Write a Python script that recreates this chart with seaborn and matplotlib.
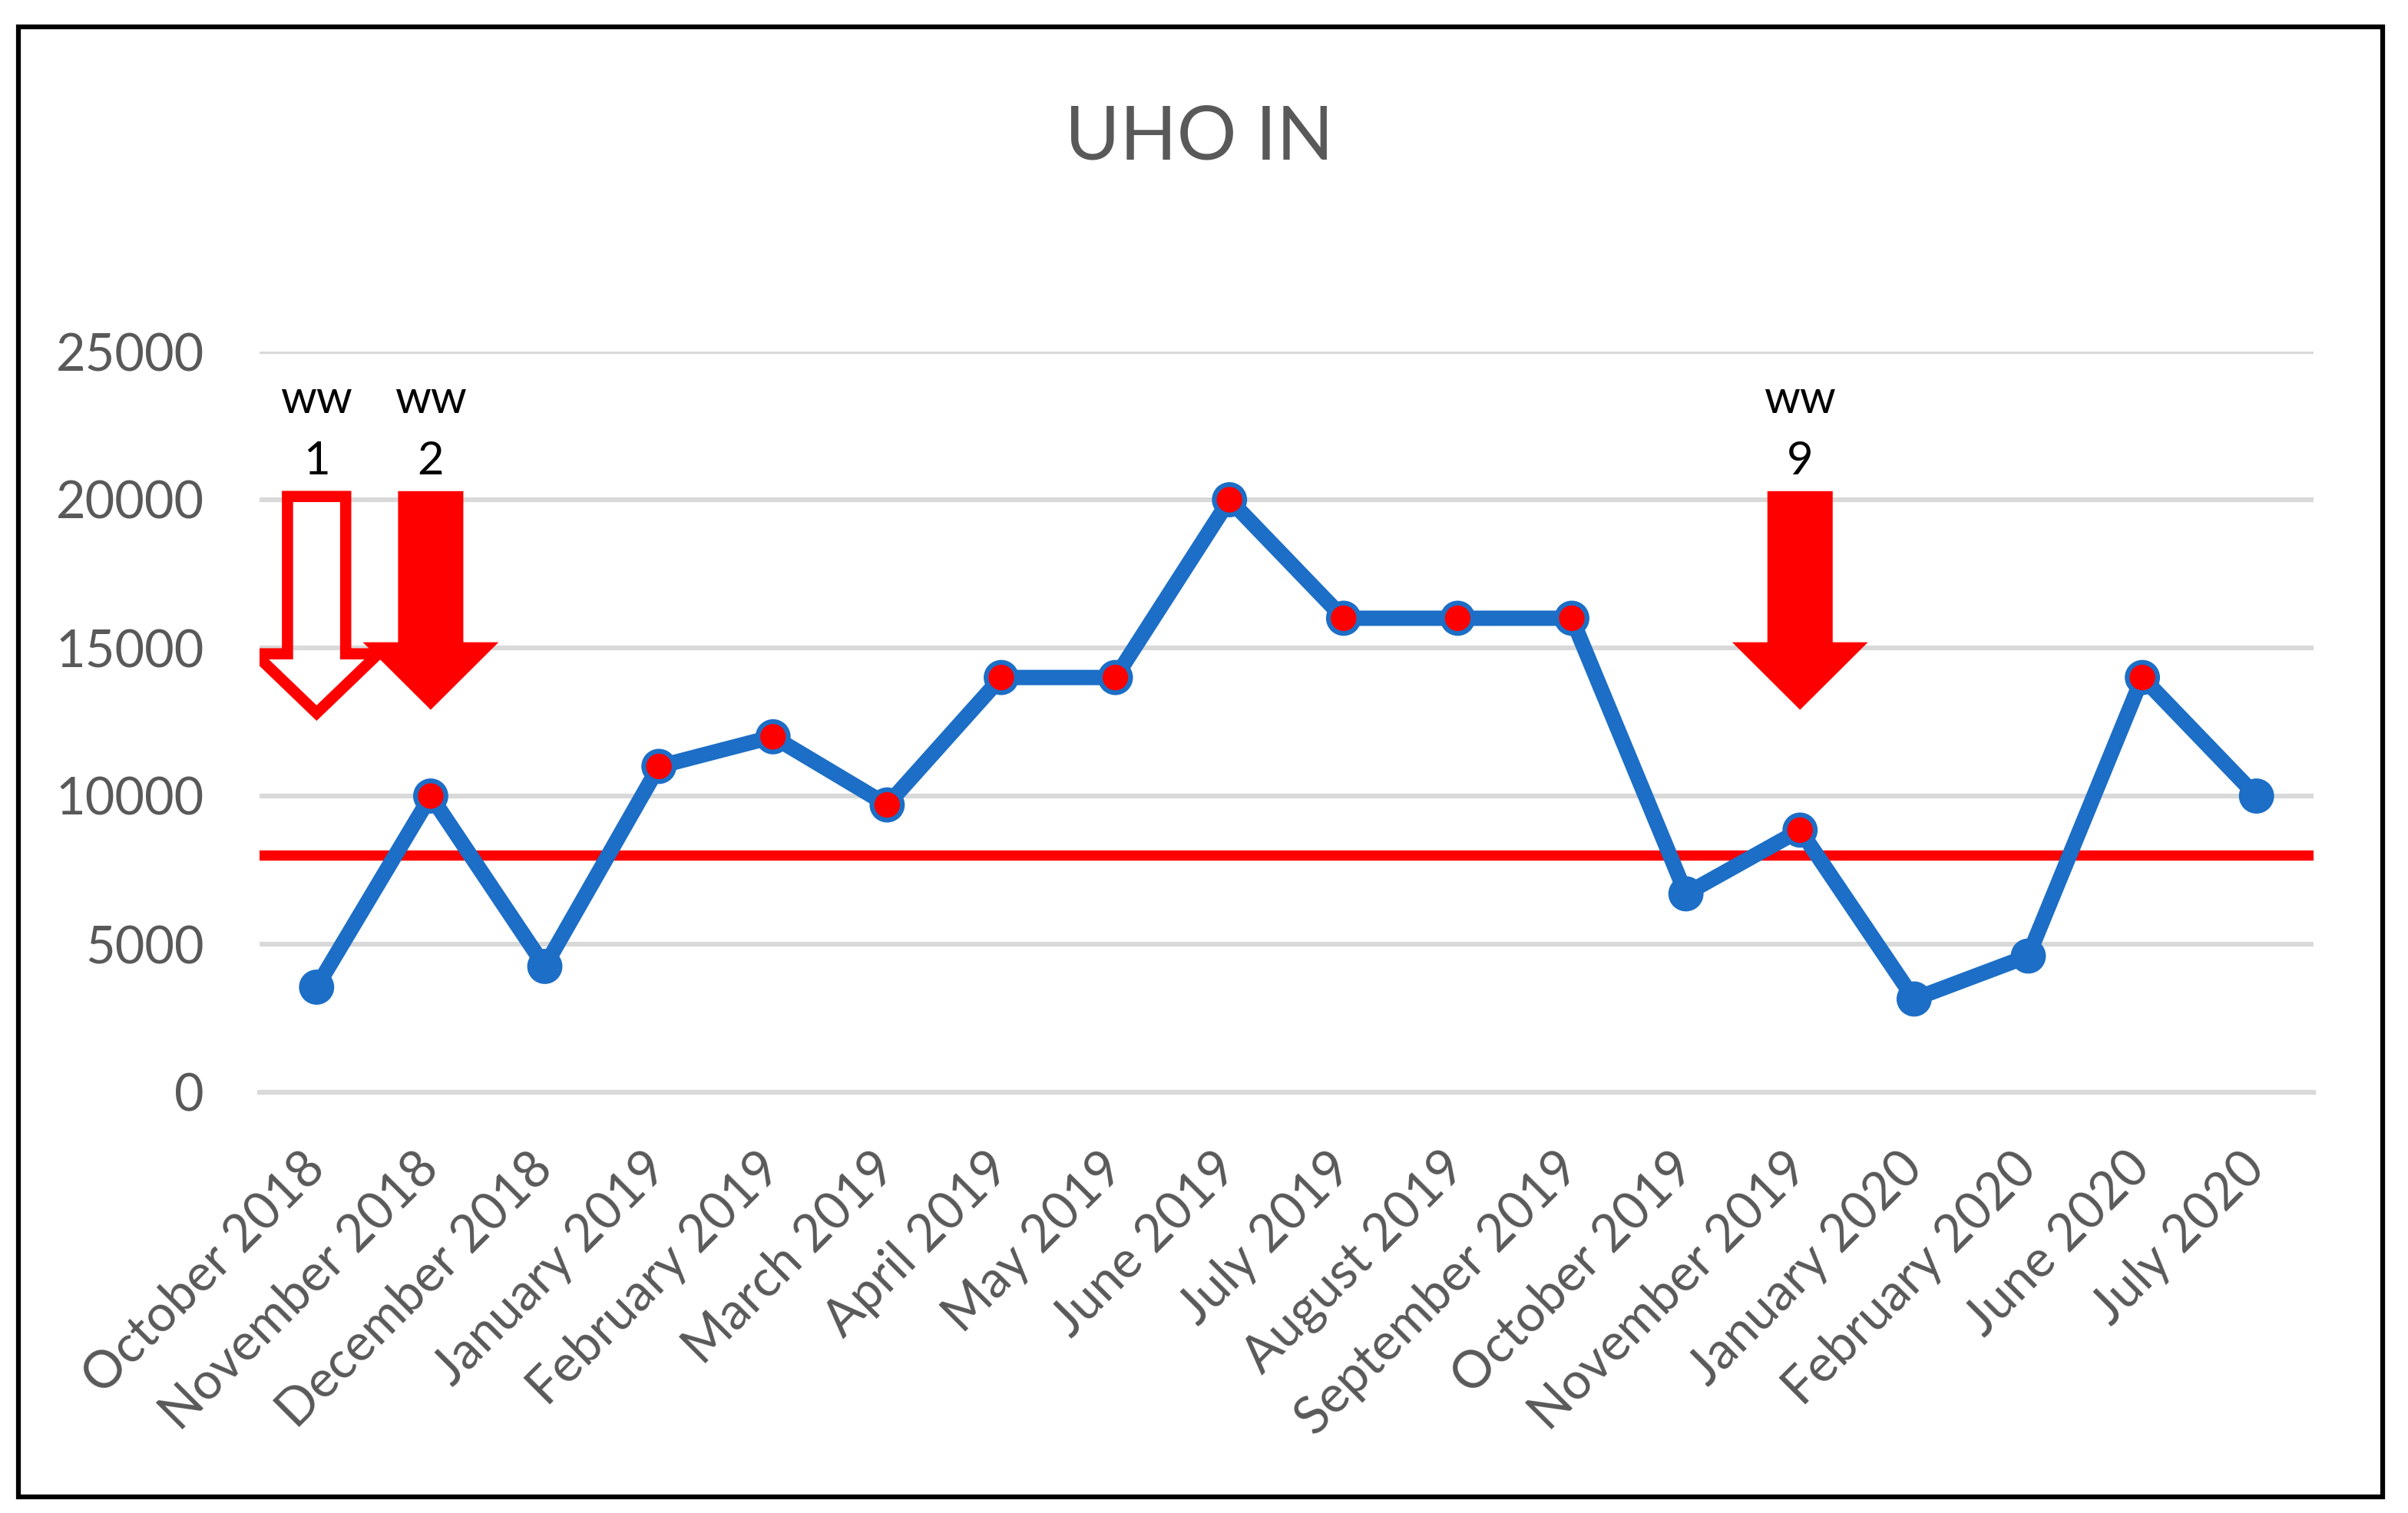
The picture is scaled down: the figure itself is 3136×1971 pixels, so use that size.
import numpy as np
import seaborn as sns
from matplotlib import pyplot as plt
from matplotlib import patches

# monthly UHO IN counts
months = ['October 2018', 'November 2018', 'December 2018', 'January 2019',
          'February 2019', 'March 2019', 'April 2019', 'May 2019', 'June 2019',
          'July 2019', 'August 2019', 'September 2019', 'October 2019',
          'November 2019', 'January 2020', 'February 2020', 'June 2020', 'July 2020']
uho_in = [3550, 10000, 4250, 11000, 12000, 9700, 14000, 14000, 20000,
          16000, 16000, 16000, 6700, 8850, 3150, 4600, 14000, 10000]
# points drawn with a red centre
flagged = [False, True, False, True, True, True, True, True, True,
           True, True, True, False, True, False, False, True, False]
threshold = 8000

# work-week arrows: category index, label, hollow?
arrow_at = [0, 1, 13]
arrow_labels = ['1', '2', '9']
arrow_hollow = [True, False, False]

BLUE = '#1C6EC6'
RED = '#FF0000'
GRID = '#D9D9D9'
TXT = '#595959'

sns.set_style('white')
plt.rcParams['font.family'] = ['Lato', 'DejaVu Sans']

fig = plt.figure(figsize=(31.36, 19.71), dpi=100)
ax = fig.add_axes([338 / 3136, 1 - 1423 / 1971, (3013 - 338) / 3136, (1423 - 458) / 1971])

x = np.arange(len(months))
ax.axhline(threshold, color=RED, lw=9.6, zorder=2.5)
sns.lineplot(x=x, y=uho_in, ax=ax, color=BLUE, lw=14.4, zorder=3)
kind = np.where(flagged, 'hi', 'lo')
sns.scatterplot(x=x, y=uho_in, hue=kind, palette={'hi': RED, 'lo': BLUE},
                s=812, edgecolor=BLUE, linewidth=4.5, ax=ax, zorder=4, legend=False)

ax.set_xlim(-0.5, len(months) - 0.5)
ax.set_ylim(0, 25000)
ax.set_yticks(np.arange(0, 25001, 5000))
ax.set_xticks(x)
ax.set_xticklabels(months, rotation=45, ha='right', va='center', rotation_mode='anchor')
ax.set_xticks(np.arange(-0.5, len(months), 1), minor=True)
ax.tick_params(axis='x', which='major', length=0, pad=64, labelsize=48, labelcolor=TXT)
ax.tick_params(axis='x', which='minor', length=18, width=4.5, color=GRID)
ax.tick_params(axis='y', length=0, pad=52, labelsize=48, labelcolor=TXT)
ax.set_xlabel('')
ax.set_ylabel('')
ax.grid(axis='y', color=GRID, lw=4.5, zorder=0)
ax.set_axisbelow(True)
for side in ['left', 'right', 'top']:
    ax.spines[side].set_visible(False)
ax.spines['bottom'].set_color(GRID)
ax.spines['bottom'].set_linewidth(4.5)

for pos, lab, hollow in zip(arrow_at, arrow_labels, arrow_hollow):
    if hollow:
        arr = patches.FancyArrow(pos, 20110, 0, -(20110 - 12800), width=0.51,
                                 head_width=1.08, head_length=2000,
                                 length_includes_head=True, fc='none', ec=RED,
                                 lw=10.5, joinstyle='miter', zorder=5)
    else:
        arr = patches.FancyArrow(pos, 20290, 0, -(20290 - 12910), width=0.572,
                                 head_width=1.19, head_length=2280,
                                 length_includes_head=True, fc=RED, ec='none',
                                 lw=0, zorder=5)
    ax.add_patch(arr)
    ax.text(pos, 22930, 'ww', ha='center', va='baseline', fontsize=43, color='black')
    ax.text(pos, 20860, lab, ha='center', va='baseline', fontsize=43, color='black')

fig.text(0.498, 1 - 208 / 1971, 'UHO IN', ha='center', va='baseline',
         fontsize=70, color=TXT)

fig.patches.append(patches.Rectangle((24 / 3136, 1 - 1950 / 1971), (3103 - 24) / 3136,
                                     (1950 - 35) / 1971, transform=fig.transFigure,
                                     fill=False, ec='black', lw=4.5))

fig.savefig('out.png', dpi=100)
